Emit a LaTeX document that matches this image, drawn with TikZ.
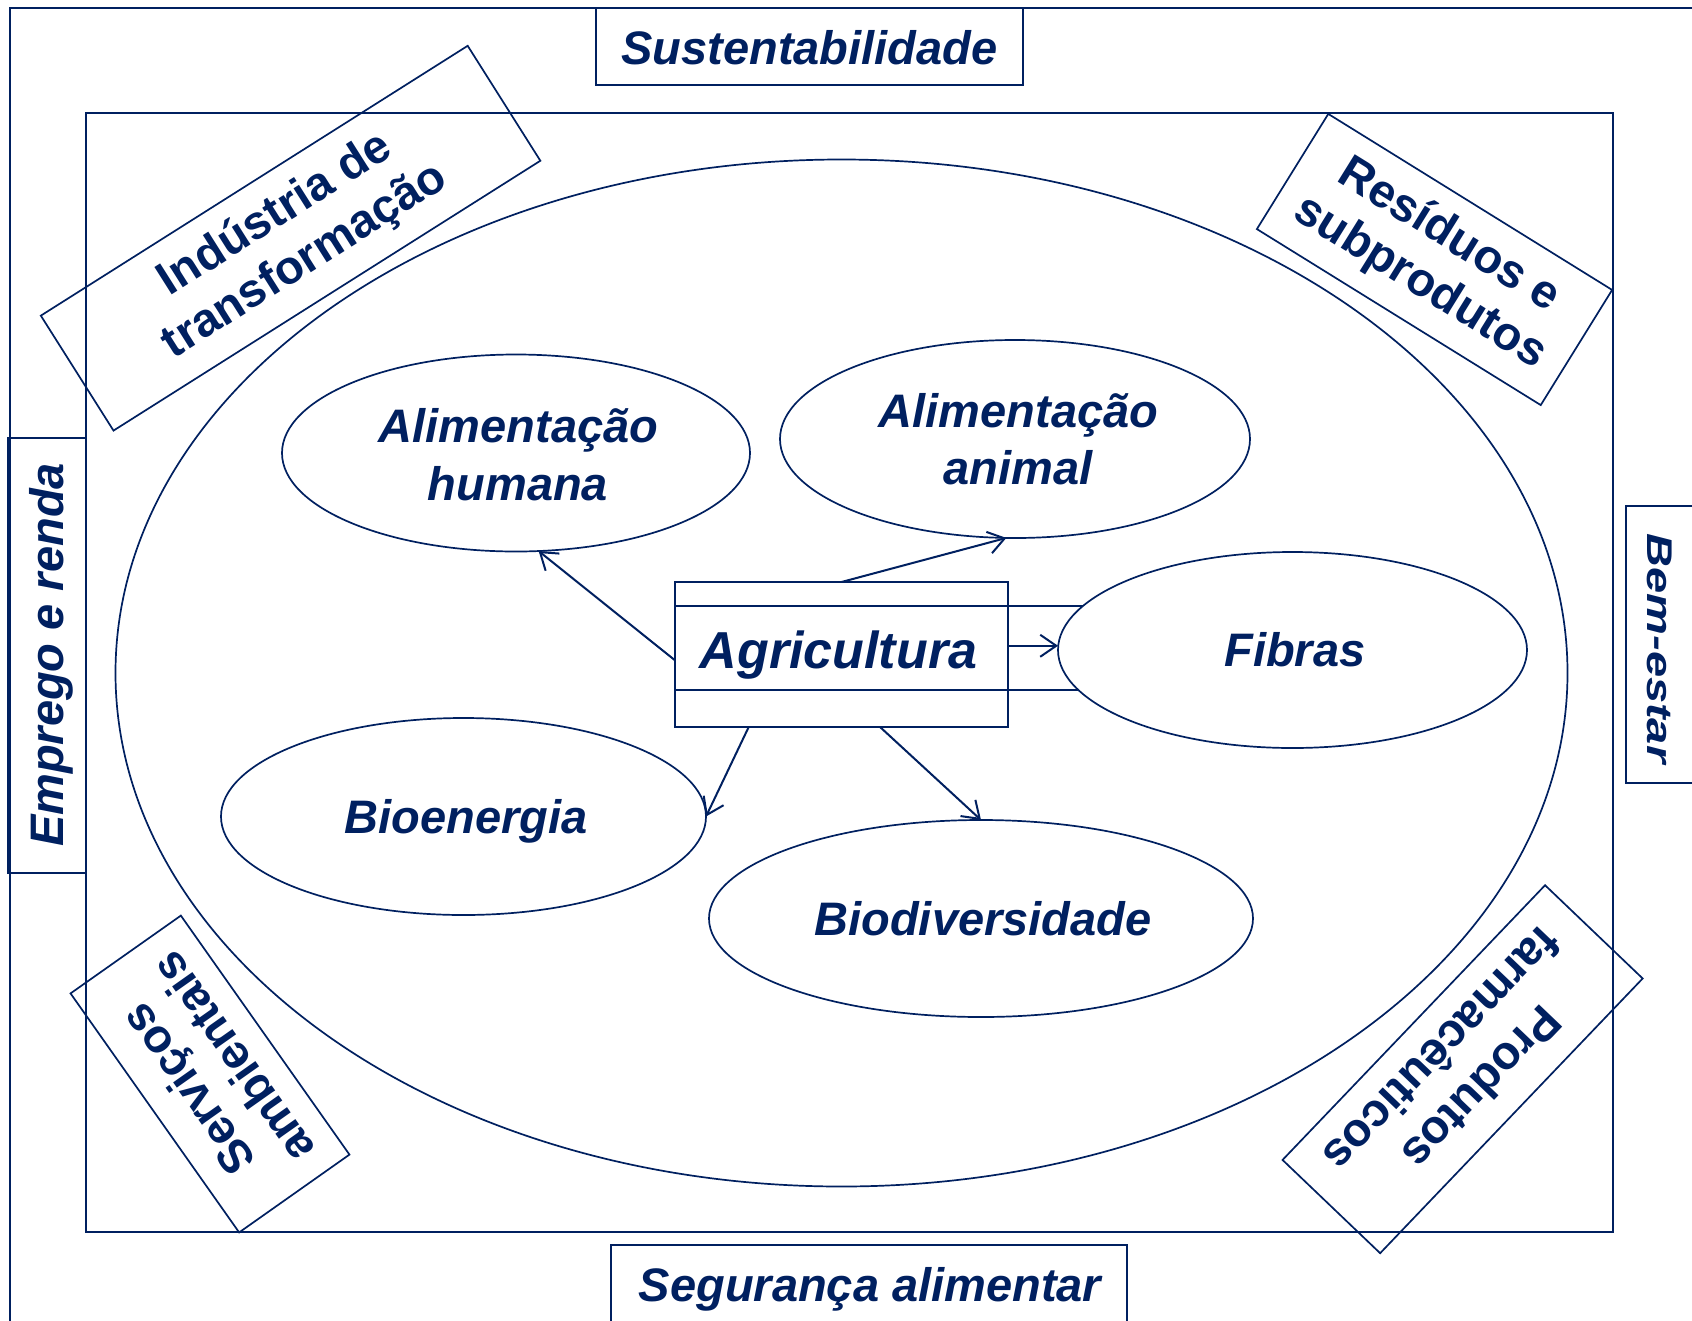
\documentclass[tikz,border=0pt]{standalone}
\usepackage{fontspec}
\setmainfont{Liberation Sans}
\usetikzlibrary{arrows.meta,shapes.geometric}
\definecolor{navy}{RGB}{0,32,96}
\begin{document}
\begin{tikzpicture}[x=1pt,y=-1pt,line join=miter,
  every node/.style={inner sep=0pt,outer sep=0pt,text=navy},
  frame/.style={draw=navy,line width=2pt},
  oval/.style={ellipse,draw=navy,line width=1.7pt,fill=white},
  ital/.style={font=\fontsize{47}{56}\selectfont\bfseries\itshape},
  bigital/.style={font=\fontsize{52}{60}\selectfont\bfseries\itshape},
  tilt/.style={draw=navy,line width=1.7pt,align=center,font=\fontsize{47}{55}\selectfont\bfseries},
  arr/.style={draw=navy,line width=2pt,-{Straight Barb[length=16pt,width=22pt]}}]
\useasboundingbox (0,0) rectangle (1692,1320);
\clip (0,0) rectangle (1692,1320);
\fill[white] (0,0) rectangle (1692,1320);
% outer frame (runs past the right and bottom edges)
\draw[frame] (10,1340) -- (10,8) -- (1710,8);
% side boxes
\draw[frame] (596,8) rectangle (1023,85);
\draw[frame] (8,438) rectangle (86,873);
\draw[frame] (1626,506) rectangle (1710,783);
\draw[frame] (611,1245) rectangle (1127,1340);
% inner frame
\draw[frame] (86,113) rectangle (1613,1232);
% big ellipse
\node[ellipse,draw=navy,line width=1.7pt,minimum width=1452pt,minimum height=1027pt] (world) at (841.5,673) {};
% tilted boxes
\node[tilt,rotate=32.3,minimum width=505pt,minimum height=136pt] (ind) at (290.6,238.2) {Indústria de\\transformação};
\node[tilt,rotate=-31.8,minimum width=334pt,minimum height=135.5pt] (res) at (1434.5,259.5) {Resíduos e\\subprodutos};
\node[tilt,rotate=125.2,minimum width=292.5pt,minimum height=135pt] (serv) at (210,1074) {Serviços\\ambientais};
\node[tilt,rotate=226.3,minimum width=380pt,minimum height=135pt] (prod) at (1462.6,1069.2) {Produtos\\farmacêuticos};
% band behind Agricultura
\draw[frame] (675,606) rectangle (1292,690);
\node[frame,minimum width=333pt,minimum height=145pt] (agri) at (841.5,654.5) {};
% inner ellipses
\node[oval,minimum width=468pt,minimum height=197pt] (hum) at (516,453) {};
\node[oval,minimum width=470pt,minimum height=198pt] (anim) at (1015,439) {};
\node[oval,minimum width=469pt,minimum height=196pt] (fib) at (1292.5,650) {};
\node[oval,minimum width=485pt,minimum height=197pt] (bio) at (463.5,816.5) {};
\node[oval,minimum width=544pt,minimum height=197pt] (biod) at (981,918.5) {};
% arrows
\draw[arr] (agri.182) -- (hum.-77);
\draw[arr] (agri.north) -- (anim.-95);
\draw[arr] (agri.3) -- (agri.3 -| fib.west);
\draw[arr] (agri.218.4) -- (bio.east);
\draw[arr] (agri.-62) -- (biod.north);
% texts
\node[ital,anchor=base] (tsust) at (809.5,64) {Sustentabilidade};
\node[ital,anchor=base] (tseg) at (870,1301) {Segurança alimentar};
\node[ital,anchor=base,rotate=90] (temp) at (63,655) {Emprego e renda};
\node[ital,anchor=base,rotate=-90,yscale=0.76] (tbem) at (1647,648.5) {Bem-estar};
\node[bigital,anchor=base] (tagri) at (838.5,668) {Agricultura};
\node[ital,anchor=base] (thum1) at (518.5,442) {Alimentação};
\node[ital,anchor=base] (thum2) at (518,500) {humana};
\node[ital,anchor=base] (tanim1) at (1018.5,427) {Alimentação};
\node[ital,anchor=base] (tanim2) at (1018,484) {animal};
\node[ital,anchor=base] (tfib) at (1295,666) {Fibras};
\node[ital,anchor=base] (tbio) at (466,833) {Bioenergia};
\node[ital,anchor=base] (tbiod) at (983,935.5) {Biodiversidade};
\end{tikzpicture}
\end{document}
